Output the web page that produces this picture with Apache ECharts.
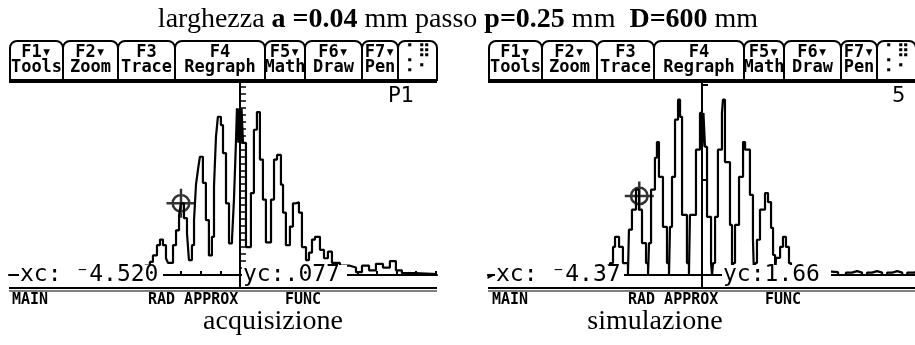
<!DOCTYPE html>
<html>
<head>
<meta charset="utf-8">
<script src="https://cdn.jsdelivr.net/npm/echarts@6.0.0/dist/echarts.min.js"></script>
<style>
  html, body { margin: 0; padding: 0; background: #fff; }
  #chart { width: 915px; height: 345px; }
</style>
</head>
<body>
<div id="chart"></div>
<script>
// acquisizione: measured intensity, x in mm (step samples: [x, level])
const ACQ_DATA = [
  [-16.90, 0.003], [-15.33, 0.005], [-12.26, 0.004], [-9.20, 0.006], [-7.28, 0.010],
  [-6.90, 0.014], [-6.67, 0.021], [-6.36, 0.032], [-6.13, 0.038], [-5.90, 0.032],
  [-5.67, 0.018], [-5.52, 0.013], [-5.13, 0.032], [-4.90, 0.048], [-4.67, 0.064],
  [-4.52, 0.077], [-4.29, 0.061], [-4.06, 0.045], [-3.91, 0.016], [-3.68, 0.032],
  [-3.52, 0.059], [-3.37, 0.097], [-3.22, 0.113], [-3.07, 0.127], [-2.84, 0.099],
  [-2.61, 0.059], [-2.38, 0.021], [-2.15, 0.041], [-1.99, 0.095], [-1.84, 0.148],
  [-1.69, 0.170], [-1.46, 0.161], [-1.30, 0.131], [-1.07, 0.077], [-0.84, 0.034],
  [-0.61, 0.038], [-0.46, 0.081], [-0.31, 0.142], [-0.23, 0.179], [-0.12, 0.142],
  [-0.05, 0.179], [0.05, 0.142], [0.12, 0.179], [0.23, 0.142], [0.46, 0.030],
  [0.84, 0.088], [1.07, 0.156], [1.30, 0.175], [1.53, 0.124], [1.76, 0.081],
  [1.99, 0.035], [2.38, 0.081], [2.61, 0.124], [2.84, 0.129], [3.14, 0.097],
  [3.30, 0.067], [3.52, 0.032], [3.83, 0.052], [4.06, 0.077], [4.29, 0.078],
  [4.52, 0.067], [4.75, 0.030], [5.06, 0.016], [5.29, 0.024], [5.52, 0.038],
  [5.75, 0.041], [6.13, 0.027], [6.44, 0.018], [6.74, 0.025], [7.05, 0.013],
  [7.66, 0.010], [8.43, 0.008], [8.89, 0.003], [9.35, 0.010], [9.89, 0.005],
  [10.42, 0.012], [10.96, 0.008], [11.49, 0.015], [11.95, 0.005], [12.41, 0.002],
  [13.41, 0.001], [15.10, 0.001]
];
const ACQ_CURSOR = [[-4.52, 0.077]];
const ACQ_X_TICKS = [-16.5, -15, -13.5, -12, -10.5, -9, -7.5, -6, -4.5, -3, -1.5,
  1.5, 3, 4.5, 6, 7.5, 9, 10.5, 12, 13.5, 15];
const ACQ_Y_TICKS = [0.0075, 0.015, 0.0225, 0.03, 0.0375, 0.045, 0.0525, 0.06, 0.0675,
  0.075, 0.0825, 0.09, 0.0975, 0.105, 0.1125, 0.12, 0.1275, 0.135, 0.1425, 0.15,
  0.1575, 0.165, 0.1725, 0.18, 0.1875, 0.195, 0.2025];

// simulazione: computed intensity, x in mm
const SIM_DATA = [
  [-14.40, 0.02], [-12.68, 0.06], [-10.59, 0.04], [-8.50, 0.08], [-7.11, 0.10],
  [-6.62, 0.19], [-6.41, 0.25], [-6.20, 0.59], [-6.06, 0.80], [-5.78, 0.59],
  [-5.51, 0.25], [-5.16, 0], [-5.09, 0.95], [-4.88, 1.37], [-4.60, 1.79],
  [-4.39, 1.37], [-4.18, 0.67], [-3.90, 0.25], [-3.76, 0], [-3.69, 0.67],
  [-3.55, 1.79], [-3.28, 2.46], [-3.14, 2.79], [-3.00, 2.06], [-2.72, 1.01],
  [-2.44, 0.25], [-2.30, 0], [-2.23, 1.01], [-2.09, 2.06], [-1.88, 3.26],
  [-1.67, 3.68], [-1.53, 3.32], [-1.39, 1.26], [-1.05, 0.25], [-0.91, 0],
  [-0.84, 1.26], [-0.42, 2.63], [-0.14, 3.40], [0.03, 2.69], [0.10, 3.40],
  [0.21, 2.69], [0.35, 1.22], [0.63, 0.25], [0.70, 0], [0.77, 0.25],
  [0.91, 1.22], [1.11, 2.63], [1.39, 3.40], [1.46, 3.68], [1.60, 2.37],
  [1.95, 1.05], [2.09, 0], [2.16, 0.25], [2.30, 1.05], [2.58, 2.06],
  [2.86, 2.79], [3.00, 2.63], [3.34, 1.68], [3.55, 0.74], [3.62, 0],
  [3.69, 0.25], [3.83, 0.74], [4.04, 1.37], [4.39, 1.72], [4.60, 1.53],
  [4.81, 0.99], [4.95, 0.42], [5.09, 0], [5.16, 0.36], [5.44, 0.59],
  [5.64, 0.80], [5.85, 0.59], [6.06, 0.25], [6.20, 0], [6.27, 0.15],
  [6.83, 0.06], [7.67, 0.08], [8.57, 0.06], [9.48, 0], [10.03, 0.05],
  [10.45, 0.08], [10.80, 0.05], [11.15, 0], [11.50, 0.05], [11.85, 0.08],
  [12.20, 0.05], [12.55, 0], [12.90, 0.05], [13.25, 0.08], [13.60, 0.05],
  [13.95, 0], [14.30, 0.05], [14.84, 0.08]
];
const SIM_CURSOR = [[-4.37, 1.66]];
const SIM_Y_TICKS = [2, 4];

const TAB_TOP = ["F1\u25be", "F2\u25be", "F3", "F4", "F5\u25be", "F6\u25be", "F7\u25be", "\u2801\u283f"];
const TAB_BOTTOM = ["Tools", "Zoom", "Trace", "Regraph", "Math", "Draw", "Pen", "\u2805\u2802"];
const STATUS = ["MAIN", "RAD APPROX", "FUNC"];
const TITLE = ["larghezza ", "a =0.04", " mm passo ", "p=0.25", " mm  ", "D=600", " mm"];
const CAPTIONS = ["acquisizione", "simulazione"];
const READOUT = [
  { xc: "xc: \u207b4.520", yc: "yc:.077", page: "P1" },
  { xc: "xc: \u207b4.37", yc: "yc:1.66", page: "5" }
];

// layout of one calculator screen (left one; the right one is shifted)
const TAB_EDGES = [10, 63, 118, 175, 265, 305, 362, 398, 437];
const SHIFT = 479;
const TI_FONT = '"DejaVu Sans Mono", monospace';
const SERIF = '"Liberation Serif", "Times New Roman", serif';

const CROSSHAIR = "path://M14,0L14,28M0,14L28,14M6,14A8,8,0,1,1,22,14A8,8,0,1,1,6,14";

function screenGraphics(dx, k) {
  const els = [];
  for (let i = 0; i < TAB_TOP.length; i++) {
    const x0 = TAB_EDGES[i] + dx;
    const x1 = TAB_EDGES[i + 1] + dx;
    els.push({
      type: "rect",
      shape: { x: x0, y: 41, width: x1 - x0, height: 39, r: [7, 7, 0, 0] },
      style: { fill: "#fff", stroke: "#000", lineWidth: 2 },
    });
    els.push({
      type: "text",
      style: {
        text: TAB_TOP[i] + "\n" + TAB_BOTTOM[i],
        x: (x0 + x1) / 2, y: 60,
        align: "center", verticalAlign: "middle",
        font: "bold 17px " + TI_FONT, lineHeight: 15, fill: "#000",
      },
    });
  }
  const right = dx === 0 ? 437 : 915;
  const left = dx === 0 ? 9 : 488;
  els.push({ type: "line", shape: { x1: left, y1: 82, x2: right, y2: 82 }, style: { stroke: "#000", lineWidth: 2 } });
  els.push({ type: "line", shape: { x1: left, y1: 288, x2: right, y2: 288 }, style: { stroke: "#000", lineWidth: 2 } });
  els.push({ type: "line", shape: { x1: left, y1: 291, x2: right, y2: 291 }, style: { stroke: "#000", lineWidth: 1 } });

  const r = READOUT[k];
  els.push({
    type: "text",
    style: { text: r.page, x: dx === 0 ? 388 : 892, y: 97, verticalAlign: "middle", font: '21px "DejaVu Sans"', fill: "#000" },
  });
  // trace readout boxes drawn over the graph
  const xcBox = dx === 0 ? [19, 163] : [495, 624];
  const ycBox = dx === 0 ? [242, 347] : [722, 831];
  [[xcBox, r.xc], [ycBox, r.yc]].forEach(([b, t]) => {
    els.push({ type: "rect", z: 50, shape: { x: b[0], y: 265, width: b[1] - b[0], height: 21 }, style: { fill: "#fff" } });
    els.push({
      type: "text", z: 51,
      style: { text: t, x: b[0] + 1, y: 275, verticalAlign: "middle", font: "23px " + TI_FONT, fill: "#000" },
    });
  });
  if (dx !== 0) {
    els.push({ type: "text", z: 51, style: { text: "\u25b8", x: 486, y: 276, verticalAlign: "middle", font: "14px " + TI_FONT, fill: "#000" } });
  }
  const sx = dx === 0 ? [12, 148, 285] : [492, 628, 765];
  STATUS.forEach((s, i) => {
    els.push({ type: "text", style: { text: s, x: sx[i], y: 300, verticalAlign: "middle", font: "bold 15px " + TI_FONT, fill: "#000" } });
  });
  els.push({
    type: "text",
    style: { text: CAPTIONS[k], x: dx === 0 ? 273 : 655, y: 322, align: "center", verticalAlign: "middle", font: "28px " + SERIF, fill: "#000" },
  });
  return els;
}

const bold = (i) => i % 2 === 1;
const titleText = TITLE.map((s, i) => `{${bold(i) ? "b" : "n"}|${s}}`).join("");

const axisBase = {
  type: "value",
  axisLine: { onZero: true, lineStyle: { color: "#000", width: 2 } },
  axisLabel: { show: false },
  splitLine: { show: false },
};

const chart = echarts.init(document.getElementById("chart"), null, { renderer: "canvas" });
chart.setOption({
  animation: false,
  backgroundColor: "#fff",
  grid: [
    { left: 9, top: 82, width: 428, height: 205 },
    { left: 488, top: 82, width: 427, height: 205 },
  ],
  xAxis: [
    Object.assign({}, axisBase, {
      gridIndex: 0, min: -17.70, max: 15.10,
      axisTick: { show: true, inside: true, length: 4, customValues: ACQ_X_TICKS, lineStyle: { color: "#000", width: 2 } },
    }),
    Object.assign({}, axisBase, { gridIndex: 1, min: -14.91, max: 14.84, axisTick: { show: false } }),
  ],
  yAxis: [
    Object.assign({}, axisBase, {
      gridIndex: 0, min: -0.0129, max: 0.2073,
      axisTick: { show: true, inside: true, length: 6, customValues: ACQ_Y_TICKS, lineStyle: { color: "#000", width: 1.5 } },
    }),
    Object.assign({}, axisBase, {
      gridIndex: 1, min: -0.252, max: 4.05,
      axisTick: { show: true, inside: true, length: 6, customValues: SIM_Y_TICKS, lineStyle: { color: "#000", width: 2 } },
    }),
  ],
  series: [
    {
      type: "line", xAxisIndex: 0, yAxisIndex: 0, data: ACQ_DATA, step: "end",
      showSymbol: false, silent: true, lineStyle: { color: "#000", width: 2.2 },
    },
    {
      type: "line", xAxisIndex: 1, yAxisIndex: 1, data: SIM_DATA, step: "end",
      showSymbol: false, silent: true, lineStyle: { color: "#000", width: 2.2 },
    },
    {
      type: "scatter", xAxisIndex: 0, yAxisIndex: 0, data: ACQ_CURSOR, z: 5,
      symbol: CROSSHAIR, symbolSize: 29, silent: true,
      itemStyle: { color: "rgba(0,0,0,0)", borderColor: "#000", borderWidth: 2.5 },
    },
    {
      type: "scatter", xAxisIndex: 1, yAxisIndex: 1, data: SIM_CURSOR, z: 5,
      symbol: CROSSHAIR, symbolSize: 29, silent: true,
      itemStyle: { color: "rgba(0,0,0,0)", borderColor: "#000", borderWidth: 2.5 },
    },
  ],
  graphic: [
    {
      type: "text",
      style: {
        text: titleText, x: 458, y: 20, align: "center", verticalAlign: "middle",
        rich: {
          n: { font: "28px " + SERIF, fill: "#000" },
          b: { font: "bold 28px " + SERIF, fill: "#000" },
        },
      },
    },
    ...screenGraphics(0, 0),
    ...screenGraphics(SHIFT, 1),
  ],
});
</script>
</body>
</html>
